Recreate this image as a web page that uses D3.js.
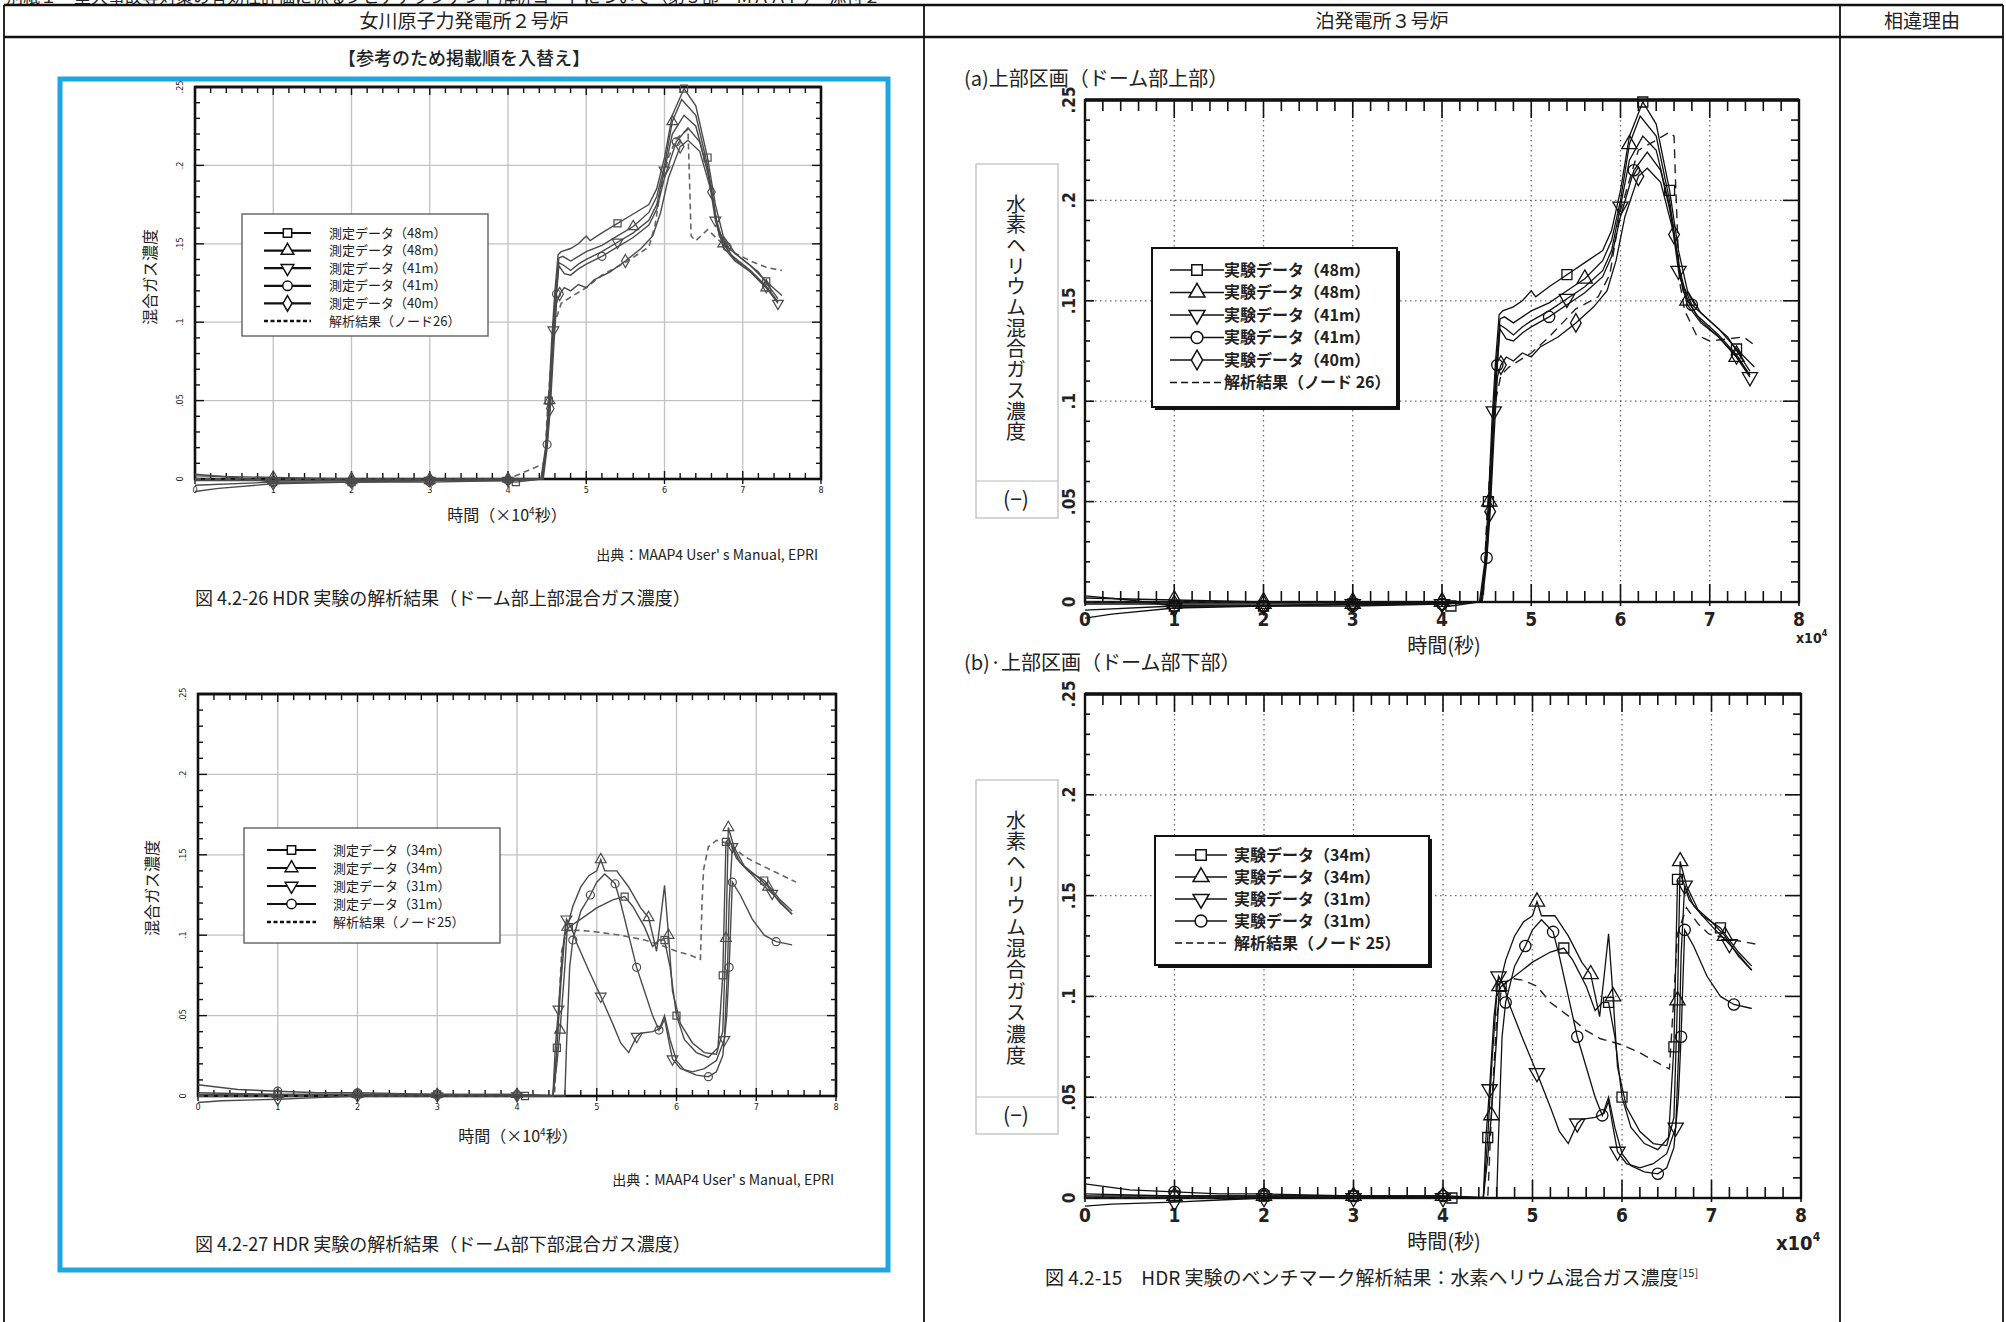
<!DOCTYPE html>
<html>
<head>
<meta charset="utf-8">
<script src="https://d3js.org/d3.v7.min.js"></script>
<style>
  body { margin: 0; background: #fff; }
  svg { display: block; }
  text { font-family: "Noto Sans CJK JP", sans-serif; fill: #222; }
  .num { font-family: "Liberation Sans Narrow", "DejaVu Sans Condensed", sans-serif; }
</style>
</head>
<body>
<script>
// ---- axes ----
var xTicks = [0, 1, 2, 3, 4, 5, 6, 7, 8];
var yTicks = [0, 0.05, 0.1, 0.15, 0.2, 0.25];
var yTickLabels = ["0", ".05", ".1", ".15", ".2", ".25"];

// ---- legend labels ----
var upperLabelsLeft = ["測定データ（48m）", "測定データ（48m）", "測定データ（41m）", "測定データ（41m）", "測定データ（40m）", "解析結果（ノード26）"];
var upperLabelsRight = ["実験データ（48m）", "実験データ（48m）", "実験データ（41m）", "実験データ（41m）", "実験データ（40m）", "解析結果（ノード 26）"];
var lowerLabelsLeft = ["測定データ（34m）", "測定データ（34m）", "測定データ（31m）", "測定データ（31m）", "解析結果（ノード25）"];
var lowerLabelsRight = ["実験データ（34m）", "実験データ（34m）", "実験データ（31m）", "実験データ（31m）", "解析結果（ノード 25）"];
var upperSymbols = ["square", "triangle", "triangleDown", "circle", "diamond"];
var lowerSymbols = ["square", "triangle", "triangleDown", "circle"];

// ---- upper dome, measured (x in 1e4 s, concentration) ----
var upper48a = [[0,0.003],[0.5,0.001],[1,-0.002],[2,-0.002],[3,-0.001],[4,-0.001],[4.1,-0.002],[4.42,0],[4.48,0.02],[4.52,0.05],[4.56,0.09],[4.6,0.12],[4.64,0.143],[4.68,0.145],[4.8,0.147],[4.9,0.15],[5.0,0.155],[5.05,0.152],[5.2,0.157],[5.4,0.163],[5.6,0.169],[5.8,0.175],[5.9,0.185],[6.0,0.205],[6.1,0.232],[6.25,0.249],[6.4,0.238],[6.55,0.205],[6.65,0.175],[6.75,0.155],[6.9,0.144],[7.1,0.136],[7.3,0.126],[7.5,0.117]];
var upper48b = [[0,-0.001],[1,-0.001],[2,-0.001],[3,-0.001],[4,0],[4.43,0],[4.49,0.02],[4.53,0.05],[4.57,0.09],[4.61,0.12],[4.65,0.141],[4.7,0.142],[4.8,0.139],[4.9,0.142],[5.0,0.145],[5.2,0.149],[5.4,0.155],[5.6,0.161],[5.8,0.17],[5.9,0.18],[6.0,0.2],[6.1,0.228],[6.22,0.242],[6.4,0.232],[6.55,0.2],[6.65,0.168],[6.75,0.15],[6.9,0.14],[7.1,0.132],[7.3,0.122],[7.45,0.113]];
var upper41a = [[0,-0.008],[0.3,-0.006],[1,-0.003],[2,-0.002],[3,-0.001],[4,-0.001],[4.44,0],[4.5,0.025],[4.54,0.055],[4.58,0.095],[4.62,0.12],[4.65,0.138],[4.72,0.136],[4.8,0.133],[4.9,0.137],[5.0,0.14],[5.2,0.145],[5.4,0.151],[5.6,0.157],[5.8,0.165],[5.9,0.175],[6.0,0.197],[6.1,0.22],[6.25,0.232],[6.4,0.225],[6.55,0.197],[6.65,0.165],[6.75,0.148],[6.9,0.139],[7.1,0.132],[7.3,0.122],[7.45,0.112]];
var upper41b = [[0,-0.004],[1,-0.002],[2,-0.002],[3,-0.002],[4,-0.001],[4.44,0],[4.5,0.022],[4.54,0.05],[4.58,0.09],[4.62,0.118],[4.65,0.136],[4.72,0.131],[4.8,0.13],[4.9,0.134],[5.0,0.137],[5.2,0.142],[5.4,0.148],[5.6,0.154],[5.8,0.162],[5.9,0.172],[6.0,0.192],[6.15,0.215],[6.3,0.224],[6.45,0.215],[6.58,0.19],[6.68,0.16],[6.8,0.148],[7.0,0.14],[7.2,0.132],[7.45,0.115]];
var upper40 = [[0,0.002],[1,0.001],[2,0],[3,0],[4,0],[4.45,0],[4.5,0.02],[4.54,0.045],[4.58,0.08],[4.62,0.112],[4.66,0.118],[4.72,0.122],[4.8,0.12],[4.9,0.124],[5.0,0.122],[5.1,0.127],[5.3,0.132],[5.5,0.139],[5.7,0.147],[5.85,0.155],[5.95,0.17],[6.05,0.192],[6.2,0.212],[6.3,0.216],[6.45,0.209],[6.6,0.183],[6.7,0.155],[6.85,0.143],[7.1,0.133],[7.3,0.123],[7.45,0.113]];
// x positions of the plotted symbols on each curve
var upperMarks48a = [1, 2, 3, 4.1, 4.52, 5.4, 6.25, 6.55, 7.3];
var upperMarks48b = [1, 2, 3, 4, 4.53, 5.6, 6.1, 6.75, 7.3];
var upperMarks41a = [1, 2, 3, 4, 4.58, 5.4, 6.0, 6.65, 7.45];
var upperMarks41b = [1, 2, 3, 4, 4.5, 4.62, 5.2, 6.15, 6.8];
var upperMarks40 = [1, 2, 3, 4, 4.54, 4.66, 5.5, 6.2, 6.6, 7.3];

// ---- upper dome, analysis (node 26) ----
var upperCalcLeft = [[0,0],[4,0],[4.47,0.01],[4.5,0.04],[4.55,0.075],[4.6,0.1],[4.68,0.112],[4.8,0.116],[5.0,0.122],[5.2,0.13],[5.5,0.138],[5.8,0.148],[5.88,0.162],[5.95,0.185],[6.05,0.205],[6.15,0.217],[6.3,0.223],[6.32,0.19],[6.34,0.155],[6.4,0.152],[6.55,0.159],[6.7,0.152],[6.9,0.144],[7.1,0.139],[7.3,0.135],[7.5,0.133]];
var upperCalcRight = [[0,0],[4,0],[4.46,0],[4.5,0.04],[4.55,0.075],[4.6,0.1],[4.66,0.113],[4.75,0.117],[5.0,0.124],[5.2,0.132],[5.5,0.146],[5.75,0.152],[5.88,0.163],[6.0,0.195],[6.2,0.225],[6.4,0.23],[6.55,0.234],[6.6,0.232],[6.62,0.205],[6.66,0.16],[6.72,0.145],[6.85,0.133],[7.0,0.13],[7.2,0.131],[7.38,0.132],[7.5,0.128]];

// ---- lower dome, measured ----
var lower34a = [[0,0.001],[1,0.001],[2,0.001],[3,0.001],[4,0.0005],[4.1,0],[4.45,0],[4.5,0.03],[4.55,0.07],[4.6,0.1],[4.65,0.105],[4.8,0.11],[5.0,0.117],[5.2,0.122],[5.35,0.124],[5.45,0.118],[5.6,0.105],[5.7,0.093],[5.78,0.097],[5.85,0.097],[5.92,0.08],[6.0,0.05],[6.1,0.035],[6.25,0.027],[6.4,0.024],[6.52,0.03],[6.58,0.075],[6.62,0.158],[6.66,0.16],[6.75,0.148],[6.9,0.14],[7.1,0.134],[7.3,0.122],[7.45,0.115]];
var lower34b = [[0,0.002],[1,0.001],[2,0.001],[3,0.001],[4,0.001],[4.45,0],[4.5,0.02],[4.54,0.041],[4.6,0.08],[4.63,0.105],[4.7,0.118],[4.8,0.13],[4.9,0.137],[5.0,0.14],[5.05,0.147],[5.1,0.14],[5.25,0.14],[5.4,0.13],[5.55,0.117],[5.65,0.111],[5.75,0.09],[5.8,0.11],[5.85,0.131],[5.9,0.1],[5.95,0.065],[6.05,0.045],[6.2,0.033],[6.35,0.027],[6.5,0.026],[6.58,0.04],[6.62,0.098],[6.65,0.167],[6.72,0.155],[6.85,0.143],[7.0,0.137],[7.15,0.13],[7.3,0.12],[7.45,0.113]];
var lower31a = [[0,-0.004],[0.3,-0.003],[1,-0.002],[1.5,-0.001],[2,0],[3,0],[4,0],[4.45,0],[4.48,0.03],[4.52,0.054],[4.57,0.09],[4.62,0.11],[4.68,0.105],[4.75,0.095],[4.9,0.078],[5.05,0.062],[5.2,0.045],[5.3,0.033],[5.4,0.027],[5.5,0.037],[5.55,0.039],[5.7,0.04],[5.8,0.042],[5.85,0.048],[5.9,0.035],[5.95,0.023],[6.05,0.017],[6.2,0.015],[6.35,0.017],[6.5,0.022],[6.6,0.035],[6.64,0.08],[6.66,0.12],[6.7,0.155],[6.8,0.145],[7.0,0.135],[7.2,0.126],[7.45,0.113]];
var lower31b = [[0,0.007],[0.5,0.004],[1,0.003],[1.5,0.002],[2,0.002],[3,0.001],[4,0.001],[4.6,0],[4.62,0.03],[4.66,0.08],[4.7,0.097],[4.8,0.115],[4.92,0.125],[5.0,0.133],[5.1,0.138],[5.23,0.132],[5.3,0.12],[5.4,0.1],[5.5,0.08],[5.6,0.065],[5.7,0.05],[5.78,0.041],[5.85,0.05],[5.92,0.035],[6.0,0.022],[6.1,0.016],[6.25,0.013],[6.4,0.012],[6.5,0.015],[6.58,0.025],[6.63,0.05],[6.66,0.08],[6.7,0.133],[6.8,0.125],[6.95,0.11],[7.1,0.1],[7.25,0.096],[7.45,0.094]];
var lowerMarks34a = [1, 2, 3, 4.1, 4.5, 4.65, 5.35, 5.85, 6.0, 6.58, 6.62, 7.1];
var lowerMarks34b = [1, 2, 3, 4, 4.54, 4.63, 5.05, 5.65, 5.9, 6.62, 6.65, 7.15];
var lowerMarks31a = [1, 2, 3, 4, 4.52, 4.62, 5.05, 5.5, 5.95, 6.6, 6.7, 7.2];
var lowerMarks31b = [1, 2, 3, 4, 4.7, 4.92, 5.23, 5.5, 5.78, 6.4, 6.66, 6.7, 7.25];

// ---- lower dome, analysis (node 25) ----
var lowerCalcLeft = [[0,0],[4,0],[4.47,0],[4.52,0.05],[4.56,0.09],[4.62,0.103],[4.8,0.103],[5.0,0.102],[5.3,0.1],[5.6,0.097],[5.8,0.094],[6.0,0.09],[6.15,0.088],[6.3,0.085],[6.32,0.12],[6.34,0.141],[6.4,0.155],[6.5,0.159],[6.65,0.157],[6.85,0.149],[7.0,0.145],[7.25,0.139],[7.5,0.133]];
var lowerCalcRight = [[0,0],[4,0],[4.5,0],[4.55,0.05],[4.6,0.09],[4.66,0.105],[4.75,0.109],[4.9,0.108],[5.05,0.105],[5.2,0.097],[5.44,0.089],[5.6,0.083],[5.76,0.079],[6.0,0.076],[6.2,0.072],[6.4,0.067],[6.53,0.064],[6.58,0.1],[6.62,0.131],[6.72,0.144],[6.85,0.136],[6.97,0.131],[7.25,0.128],[7.49,0.126]];

var upperMeasured = [
  { data: upper48a, marks: upperMarks48a },
  { data: upper48b, marks: upperMarks48b },
  { data: upper41a, marks: upperMarks41a },
  { data: upper41b, marks: upperMarks41b },
  { data: upper40, marks: upperMarks40 }
];
var lowerMeasured = [
  { data: lower34a, marks: lowerMarks34a },
  { data: lower34b, marks: lowerMarks34b },
  { data: lower31a, marks: lowerMarks31a },
  { data: lower31b, marks: lowerMarks31b }
];

var symbolTypes = {
  square: d3.symbolSquare, triangle: d3.symbolTriangle, triangleDown: d3.symbolTriangle,
  circle: d3.symbolCircle, diamond: d3.symbolDiamond
};

var svg = d3.select("body").append("svg").attr("width", 2006).attr("height", 1322);

// ---- page / table frame ----
svg.append("text").attr("x", 6).attr("y", 3).attr("font-size", 17).attr("fill", "#444")
  .text("別紙１　重大事故等対策の有効性評価に係るシビアアクシデント解析コードについて（第５部　ＭＡＡＰ）　添付２");

var table = svg.append("g").attr("stroke", "#111").attr("fill", "none");
table.append("line").attr("x1", 4).attr("x2", 2003).attr("y1", 5).attr("y2", 5).attr("stroke-width", 2.5);
table.append("line").attr("x1", 4).attr("x2", 2003).attr("y1", 37).attr("y2", 37).attr("stroke-width", 2.5);
[4, 924, 1840, 2003].forEach(function(x) {
  table.append("line").attr("x1", x).attr("x2", x).attr("y1", 5).attr("y2", 1322).attr("stroke-width", 1.8);
});

svg.append("text").attr("x", 464).attr("y", 28).attr("text-anchor", "middle").attr("font-size", 19).text("女川原子力発電所２号炉");
svg.append("text").attr("x", 1382).attr("y", 28).attr("text-anchor", "middle").attr("font-size", 19).text("泊発電所３号炉");
svg.append("text").attr("x", 1922).attr("y", 28).attr("text-anchor", "middle").attr("font-size", 19).text("相違理由");
svg.append("text").attr("x", 464).attr("y", 65).attr("text-anchor", "middle").attr("font-size", 18)
  .attr("font-weight", 500).text("【参考のため掲載順を入替え】");

svg.append("rect").attr("x", 60).attr("y", 79).attr("width", 828).attr("height", 1191)
  .attr("fill", "none").attr("stroke", "#1ea5e3").attr("stroke-width", 5);

// ---- chart drawing ----
function drawChart(o) {
  var g = svg.append("g");
  var scan = o.kind === "scan";
  var x = d3.scaleLinear().domain([0, 8]).range([o.left, o.right]);
  var y = d3.scaleLinear().domain([0, 0.25]).range([o.bottom, o.top]);

  // grid
  var grid = g.append("g").attr("stroke", scan ? "#c2c2c2" : "#6a6a6a")
    .attr("stroke-width", 1.3).attr("stroke-dasharray", scan ? null : "1.5,3.5");
  grid.selectAll(".vx").data(xTicks.slice(1, -1)).join("line")
    .attr("x1", d => x(d)).attr("x2", d => x(d)).attr("y1", o.top).attr("y2", o.bottom);
  grid.selectAll(".hy").data(yTicks.slice(1, -1)).join("line")
    .attr("y1", d => y(d)).attr("y2", d => y(d)).attr("x1", o.left).attr("x2", o.right);

  // minor ticks
  var ticks = g.append("g").attr("stroke", "#111").attr("stroke-width", scan ? 1.4 : 1.6);
  var xMinor = d3.range(41).map(i => i / 5);
  var yMinor = d3.range(26).map(i => i / 100);
  var isInt = d => Math.abs(d - Math.round(d)) < 1e-6;
  var is05 = d => Math.abs(d * 20 - Math.round(d * 20)) < 1e-6;
  var tShort = scan ? 6 : 11, tLong = scan ? 8 : 18;
  ticks.selectAll(".tt").data(xMinor).join("line")
    .attr("x1", d => x(d)).attr("x2", d => x(d))
    .attr("y1", o.top).attr("y2", d => o.top + (isInt(d) ? tLong : tShort));
  ticks.selectAll(".tb").data(xMinor).join("line")
    .attr("x1", d => x(d)).attr("x2", d => x(d))
    .attr("y1", o.bottom).attr("y2", d => o.bottom - (isInt(d) ? tLong : tShort));
  ticks.selectAll(".tbo").data(xTicks).join("line")
    .attr("x1", d => x(d)).attr("x2", d => x(d))
    .attr("y1", o.bottom).attr("y2", o.bottom + (scan ? 5 : 4));
  ticks.selectAll(".tl").data(yMinor).join("line")
    .attr("y1", d => y(d)).attr("y2", d => y(d))
    .attr("x1", o.left).attr("x2", d => o.left + (is05(d) ? 9 : 5));
  ticks.selectAll(".tr").data(yMinor).join("line")
    .attr("y1", d => y(d)).attr("y2", d => y(d))
    .attr("x1", o.right).attr("x2", d => o.right - (is05(d) ? (scan ? 9 : 16) : (scan ? 5 : 8)));

  // frame
  g.append("rect").attr("x", o.left).attr("y", o.top)
    .attr("width", o.right - o.left).attr("height", o.bottom - o.top)
    .attr("fill", "none").attr("stroke", "#111").attr("stroke-width", scan ? 2.6 : 2.4);
  g.append("line").attr("x1", o.left).attr("x2", o.right).attr("y1", o.top).attr("y2", o.top)
    .attr("stroke", "#111").attr("stroke-width", scan ? 2.6 : 3.4);

  // tick labels
  g.selectAll(".xl").data(xTicks).join("text").attr("class", "num")
    .attr("x", d => x(d)).attr("y", o.bottom + (scan ? 14 : 24))
    .attr("text-anchor", "middle").attr("font-size", scan ? 9 : 19)
    .attr("font-weight", scan ? 400 : 700).text(d => d);
  g.selectAll(".yl").data(yTicks).join("text").attr("class", "num")
    .attr("transform", d => "translate(" + (o.left - (scan ? 12 : 10)) + "," + y(d) + ") rotate(-90)")
    .attr("text-anchor", "middle").attr("font-size", scan ? 9 : 17)
    .attr("font-weight", scan ? 400 : 700).text((d, i) => yTickLabels[i]);

  // curves
  var line = d3.line().x(d => x(d[0])).y(d => y(d[1]));
  var curveColor = scan ? "#4a4a4a" : "#111";
  var curves = g.append("g");
  curves.append("path").attr("d", line(o.calc)).attr("fill", "none")
    .attr("stroke", scan ? "#666" : "#222").attr("stroke-width", scan ? 1.6 : 1.4)
    .attr("stroke-dasharray", scan ? "6,4" : "9,6");
  o.measured.forEach(function(s, i) {
    curves.append("path").attr("d", line(s.data)).attr("fill", "none")
      .attr("stroke", curveColor).attr("stroke-width", scan ? 1.4 : 1.3);
    var pts = s.marks.map(mx => s.data.find(p => p[0] === mx)).filter(Boolean);
    var sym = o.symbols[i];
    curves.selectAll(null).data(pts).join("path")
      .attr("d", d3.symbol(symbolTypes[sym], scan ? 50 : 100)())
      .attr("transform", d => "translate(" + x(d[0]) + "," + y(d[1]) + ")" + (sym === "triangleDown" ? " rotate(180)" : ""))
      .attr("fill", "none").attr("stroke", curveColor).attr("stroke-width", scan ? 1.2 : 1.3);
  });

  // legend
  var L = o.legend;
  var lg = g.append("g");
  if (!scan) {
    lg.append("rect").attr("x", L.x + 3).attr("y", L.y + 3).attr("width", L.w).attr("height", L.h).attr("fill", "#111");
  }
  lg.append("rect").attr("x", L.x).attr("y", L.y).attr("width", L.w).attr("height", L.h)
    .attr("fill", "#fff").attr("stroke", scan ? "#555" : "#111").attr("stroke-width", scan ? 1.3 : 2);
  o.labels.forEach(function(label, i) {
    var ry = L.y + L.pad + i * L.step;
    var isCalc = i === o.labels.length - 1;
    lg.append("line").attr("x1", L.lx0).attr("x2", L.lx1).attr("y1", ry).attr("y2", ry)
      .attr("stroke", "#111").attr("stroke-width", scan ? (isCalc ? 2.4 : 2.2) : 1.4)
      .attr("stroke-dasharray", isCalc ? (scan ? "4,2.5" : "7,4") : null);
    if (!isCalc) {
      var sym = o.symbols[i];
      lg.append("path").attr("d", d3.symbol(symbolTypes[sym], scan ? 70 : 110)())
        .attr("transform", "translate(" + (L.lx0 + L.lx1) / 2 + "," + ry + ")" + (sym === "triangleDown" ? " rotate(180)" : ""))
        .attr("fill", "#fff").attr("stroke", "#111").attr("stroke-width", 1.5);
    }
    lg.append("text").attr("x", L.tx).attr("y", ry).attr("dy", "0.36em")
      .attr("font-size", scan ? 13 : 16).attr("font-weight", scan ? 400 : 700).text(label);
  });
  return g;
}

// x-axis title with superscript
function timeLabel(x, yy) {
  var t = svg.append("text").attr("x", x).attr("y", yy).attr("text-anchor", "middle").attr("font-size", 16);
  t.append("tspan").text("時間（×10");
  t.append("tspan").attr("font-size", 10).attr("dy", -6).text("4");
  t.append("tspan").attr("dy", 6).text("秒）");
}

function sideLabel(cx, cy) {
  svg.append("text").attr("transform", "translate(" + cx + "," + cy + ") rotate(-90)")
    .attr("text-anchor", "middle").attr("dy", "0.35em").attr("font-size", 16).attr("fill", "#333").text("混合ガス濃度");
}

// unit box of the Tomari charts, title written vertically
function unitBox(top, divider, bottom, spacing) {
  var b = svg.append("g");
  b.append("rect").attr("x", 976).attr("y", top).attr("width", 82).attr("height", bottom - top)
    .attr("fill", "none").attr("stroke", "#bbb").attr("stroke-width", 1.2);
  b.append("line").attr("x1", 976).attr("x2", 1058).attr("y1", divider).attr("y2", divider)
    .attr("stroke", "#bbb").attr("stroke-width", 1.2);
  b.append("text").attr("x", 1016).attr("y", top + 30)
    .style("writing-mode", "vertical-rl").style("letter-spacing", spacing + "px")
    .attr("font-size", 20).attr("fill", "#333").text("水素ヘリウム混合ガス濃度");
  b.append("text").attr("x", 1016).attr("y", (divider + bottom) / 2).attr("dy", "0.36em")
    .attr("text-anchor", "middle").attr("font-size", 21).attr("fill", "#333").text("(−)");
}

// ---- Onagawa, upper dome ----
drawChart({
  kind: "scan", left: 195, right: 821, top: 87, bottom: 479,
  measured: upperMeasured, calc: upperCalcLeft, symbols: upperSymbols, labels: upperLabelsLeft,
  legend: { x: 242, y: 214, w: 246, h: 122, pad: 19, step: 17.6, lx0: 264, lx1: 311, tx: 329 }
});
sideLabel(150, 277);
timeLabel(507, 521);
svg.append("text").attr("x", 818).attr("y", 560).attr("text-anchor", "end").attr("font-size", 14).attr("fill", "#333")
  .text("出典：MAAP4 User' s Manual, EPRI");
svg.append("text").attr("x", 195).attr("y", 605).attr("font-size", 18)
  .text("図 4.2-26 HDR 実験の解析結果（ドーム部上部混合ガス濃度）");

// ---- Onagawa, lower dome ----
drawChart({
  kind: "scan", left: 198, right: 836, top: 694, bottom: 1096,
  measured: lowerMeasured, calc: lowerCalcLeft, symbols: lowerSymbols, labels: lowerLabelsLeft,
  legend: { x: 244, y: 828, w: 256, h: 115, pad: 22, step: 18, lx0: 267, lx1: 316, tx: 333 }
});
sideLabel(152, 888);
timeLabel(518, 1142);
svg.append("text").attr("x", 834).attr("y", 1185).attr("text-anchor", "end").attr("font-size", 14).attr("fill", "#333")
  .text("出典：MAAP4 User' s Manual, EPRI");
svg.append("text").attr("x", 195).attr("y", 1251).attr("font-size", 18)
  .text("図 4.2-27 HDR 実験の解析結果（ドーム部下部混合ガス濃度）");

// ---- Tomari, upper dome ----
svg.append("text").attr("x", 964).attr("y", 86).attr("font-size", 20).attr("fill", "#333").text("(a)上部区画（ドーム部上部）");
drawChart({
  kind: "print", left: 1085, right: 1799, top: 100, bottom: 602,
  measured: upperMeasured, calc: upperCalcRight, symbols: upperSymbols, labels: upperLabelsRight,
  legend: { x: 1152, y: 248, w: 245, h: 159, pad: 22, step: 22.5, lx0: 1170, lx1: 1224, tx: 1224 }
});
unitBox(164, 481, 518, 0.7);
svg.append("text").attr("x", 1444).attr("y", 653).attr("text-anchor", "middle").attr("font-size", 20).text("時間(秒)");
var e1 = svg.append("text").attr("class", "num").attr("x", 1796).attr("y", 643).attr("font-size", 14).attr("font-weight", 700);
e1.append("tspan").text("x10");
e1.append("tspan").attr("font-size", 9).attr("dy", -7).text("4");

// ---- Tomari, lower dome ----
svg.append("text").attr("x", 964).attr("y", 670).attr("font-size", 20).attr("fill", "#333").text("(b)·上部区画（ドーム部下部）");
drawChart({
  kind: "print", left: 1085, right: 1801, top: 694, bottom: 1198,
  measured: lowerMeasured, calc: lowerCalcRight, symbols: lowerSymbols, labels: lowerLabelsRight,
  legend: { x: 1155, y: 836, w: 274, h: 129, pad: 19, step: 22, lx0: 1175, lx1: 1227, tx: 1234 }
});
unitBox(780, 1097, 1134, 1.4);
svg.append("text").attr("x", 1444).attr("y", 1249).attr("text-anchor", "middle").attr("font-size", 20).text("時間(秒)");
var e2 = svg.append("text").attr("class", "num").attr("x", 1776).attr("y", 1250).attr("font-size", 20).attr("font-weight", 700);
e2.append("tspan").text("x10");
e2.append("tspan").attr("font-size", 12).attr("dy", -9).text("4");

var cap = svg.append("text").attr("x", 1045).attr("y", 1285).attr("font-size", 19);
cap.append("tspan").text("図 4.2-15　HDR 実験のベンチマーク解析結果：水素ヘリウム混合ガス濃度");
cap.append("tspan").attr("font-size", 11).attr("dy", -8).text("[15]");
</script>
</body>
</html>
